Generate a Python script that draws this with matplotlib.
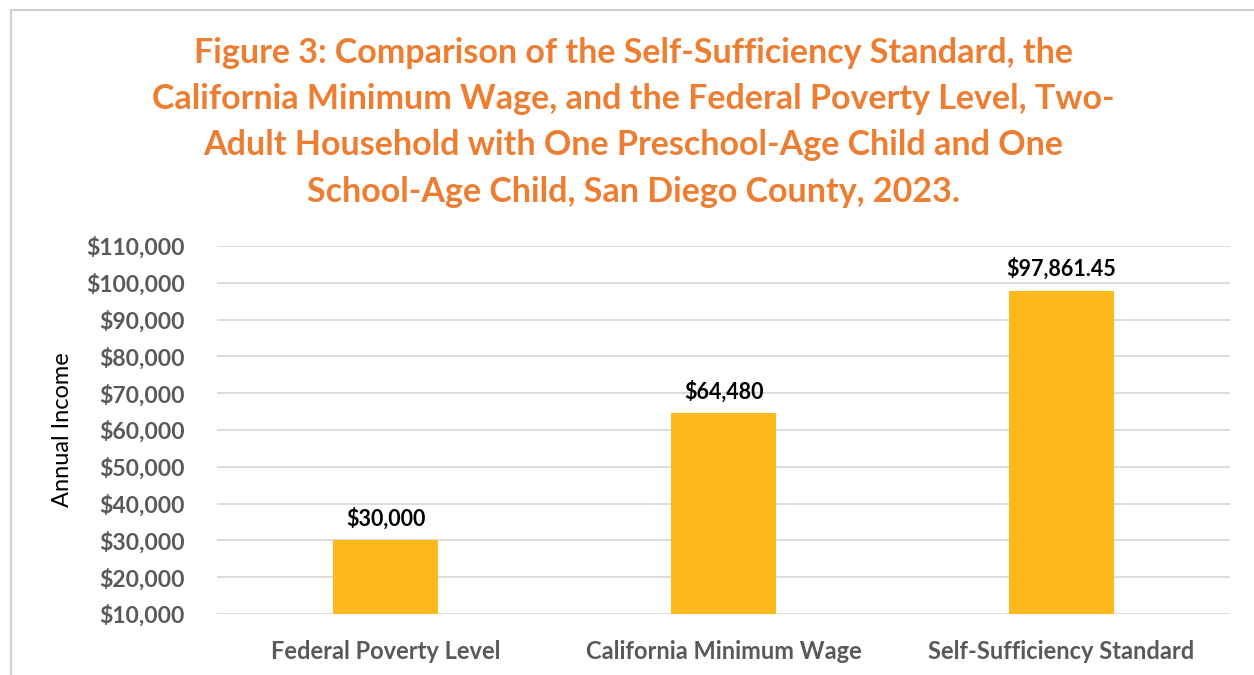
import matplotlib.pyplot as plt
from matplotlib.ticker import FuncFormatter
from matplotlib.lines import Line2D

categories = ['Federal Poverty Level', 'California Minimum Wage', 'Self-Sufficiency Standard']
values = [30000, 64480, 97861.45]
value_labels = ['$30,000', '$64,480', '$97,861.45']
yticks = list(range(10000, 110001, 10000))

title = ('Figure 3: Comparison of the Self-Sufficiency Standard, the\n'
         'California Minimum Wage, and the Federal Poverty Level, Two-\n'
         'Adult Household with One Preschool-Age Child and One\n'
         'School-Age Child, San Diego County, 2023.')

plt.rcParams['font.family'] = ['Lato', 'DejaVu Sans']

fig = plt.figure(figsize=(12.54, 6.75), dpi=100)
ax = fig.add_axes([0.173, 0.0904, 0.808, 0.5452])

x = range(len(categories))
bars = ax.bar(x, values, width=0.31, color='#FDB81C', zorder=2)
for b, lab in zip(bars, value_labels):
    ax.annotate(lab, (b.get_x() + b.get_width() / 2, b.get_height()),
                xytext=(0, 8), textcoords='offset points', ha='center', va='bottom',
                fontsize=15.5, fontweight='bold', color='black')

ax.set_ylim(10000, 110000)
ax.set_xlim(-0.5, 2.5)
ax.set_yticks(yticks)
ax.yaxis.set_major_formatter(FuncFormatter(lambda v, p: '${:,.0f}'.format(v)))
ax.set_xticks(list(x))
ax.set_xticklabels(categories)
ax.grid(axis='y', color='#D9D9D9', linewidth=1.3, zorder=0)
for s in ax.spines.values():
    s.set_visible(False)
ax.tick_params(length=0)
ax.tick_params(axis='y', pad=23, labelsize=16.5, labelcolor='#595959')
ax.tick_params(axis='x', pad=19, labelsize=17, labelcolor='#595959')
for t in ax.get_yticklabels() + ax.get_xticklabels():
    t.set_fontweight('bold')

fig.text(0.05, 0.363, 'Annual Income', rotation=90, ha='center', va='center', fontsize=17)

fig.text(0.505, 0.819, title, ha='center', va='center', fontsize=24.5, fontweight='bold',
         color='#ED7D31', linespacing=1.55)

# chart border (top and left edges visible)
fig.add_artist(Line2D([11 / 1254, 11 / 1254], [0, 1 - 10 / 675], transform=fig.transFigure,
                      color='#D0D0D0', linewidth=1.5))
fig.add_artist(Line2D([11 / 1254, 1], [1 - 10 / 675, 1 - 10 / 675], transform=fig.transFigure,
                      color='#D0D0D0', linewidth=1.5))

fig.savefig('out.png', dpi=100)
